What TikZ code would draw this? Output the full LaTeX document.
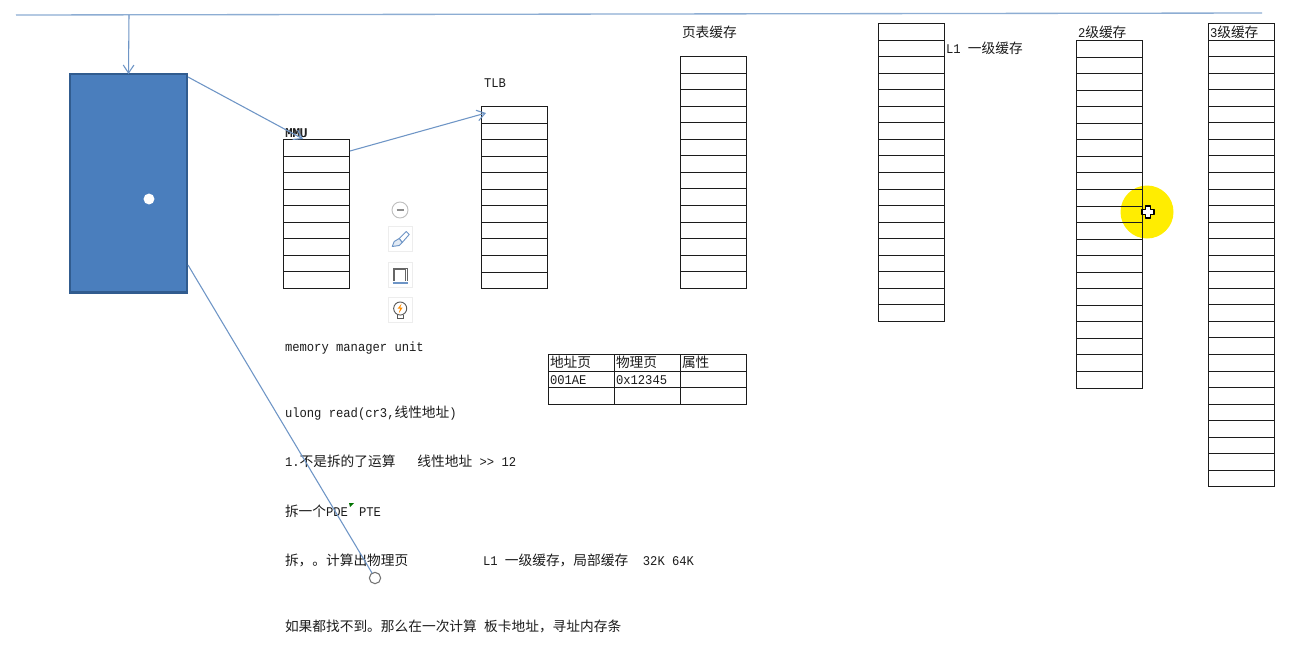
\documentclass[tikz,border=0pt]{standalone}
\usepackage{fontspec}
\setmainfont[FakeStretch=0.913]{Liberation Mono}
\setmonofont[FakeStretch=0.913]{Liberation Mono}
\newfontfamily\cjfont[Scale=1.028]{Noto Sans CJK SC}
\newcommand{\C}[1]{{\cjfont #1}}
\usetikzlibrary{calc,arrows.meta}
\definecolor{linkblue}{HTML}{6E95C6}
\definecolor{topblue}{HTML}{8DADD3}
\definecolor{boxfill}{HTML}{4A7EBD}
\definecolor{boxedge}{HTML}{315C8F}
\definecolor{inkdark}{HTML}{1C1C1C}
\tikzset{
  x=0.75pt,y=-0.75pt,
  stackbox/.style={draw=inkdark,line width=0.75pt,inner sep=0,outer sep=0,minimum width=49.5pt,anchor=north west},
  rowline/.style={draw=inkdark,line width=0.75pt},
  lbl/.style={anchor=base west,inner sep=0,outer sep=0,text=inkdark,font=\fontsize{10}{12}\selectfont},
  link/.style={draw=linkblue,line width=0.8pt},
  arrowlink/.style={link,-{Straight Barb[length=6pt,width=8pt]}},
  iconbox/.style={fill=white,draw=black!7,line width=0.4pt,minimum width=18.4pt,minimum height=18.4pt,inner sep=0,outer sep=0},
  iconshadow/.style={fill=black!12,draw=none,minimum width=18.4pt,minimum height=18.4pt,inner sep=0},
  handle/.style={circle,inner sep=0,outer sep=0,minimum size=8pt}
}
\newcommand{\stackgrid}[4]{%
  \node[stackbox,minimum height={#4*12.4125pt}] (#1) at (#2,#3) {};
  \foreach \i in {1,...,\numexpr#4-1\relax}{
    \draw[rowline] ($(#1.north west)!\i/#4!(#1.south west)$) -- ($(#1.north east)!\i/#4!(#1.south east)$);
  }
}
\newcommand{\txt}[4]{\node[lbl] (#1) at (#2,#3+4.5) {#4};}
\newcommand{\icon}[2]{%
  \node[iconshadow] at (401.2,#2+1.2) {};
  \node[iconbox] (#1) at (400.2,#2) {};
}
\begin{document}
\begin{tikzpicture}
\useasboundingbox[fill=white] (0,0) rectangle (1298,651);

% highlight under everything
\fill[yellow!95!orange] (1147,212) circle[radius=26.5];

% top line
\coordinate (topl) at (16,15);
\coordinate (topr) at (1262,13);
\draw[draw=topblue,line width=1pt] (topl) -- (topr);

% blue block
\node[draw=boxedge,fill=boxfill,line width=2pt,inner sep=0,outer sep=0,minimum width=87.75pt,minimum height=164pt,anchor=north west] (cpu) at (70,74) {};
\node[handle,fill=white,minimum size=8.2pt] (dot) at (149,199) {};

% stacks
\stackgrid{mmu}{283.5}{139.5}{9}
\stackgrid{tlb}{481.5}{106.5}{11}
\stackgrid{pte}{680.5}{56.5}{14}
\stackgrid{lone}{878.5}{23.5}{18}
\stackgrid{ltwo}{1076.5}{40.5}{21}
\stackgrid{lthree}{1208.5}{23.5}{28}

% small table
\node[stackbox,minimum width=148.5pt,minimum height=37.5pt] (tab) at (548.5,354.5) {};
\draw[rowline] ($(tab.north west)!1/3!(tab.south west)$) -- ($(tab.north east)!1/3!(tab.south east)$);
\draw[rowline] ($(tab.north west)!2/3!(tab.south west)$) -- ($(tab.north east)!2/3!(tab.south east)$);
\draw[rowline] ($(tab.north west)!1/3!(tab.north east)$) -- ($(tab.south west)!1/3!(tab.south east)$);
\draw[rowline] ($(tab.north west)!2/3!(tab.north east)$) -- ($(tab.south west)!2/3!(tab.south east)$);

% labels
\txt{tpte}{682}{33}{\C{页表缓存}}
\txt{ttlb}{484}{83}{TLB}
\txt{tmmu}{285}{133}{MMU}
\node[lbl] (tmmub) at (285.7,137.5) {MMU};
\txt{tlone}{946}{49}{L1 \C{一级缓存}}
\txt{tltwo}{1078}{33}{2\C{级缓存}}
\txt{tlthree}{1210}{33}{3\C{级缓存}}

\txt{ta}{550}{363}{\C{地址页}}
\txt{tb}{616}{363}{\C{物理页}}
\txt{tc}{682}{363}{\C{属性}}
\txt{td}{550}{380}{001AE}
\txt{te}{616}{380}{0x12345}

\txt{la}{285}{347}{memory manager unit}
\txt{lb}{285}{413}{ulong read(cr3,\C{线性地址})}
\txt{lc}{285}{462}{1.\C{不是拆的了运算}\ \ \ \C{线性地址} >{}> 12}
\txt{ld}{285}{512}{\C{拆一个}PDE\hspace{8.25pt}PTE}
\txt{le}{285}{561}{\C{拆，。计算出物理页}}
\txt{lf}{483}{561}{L1 \C{一级缓存，局部缓存}\ \ 32K 64K}
\txt{lg}{285}{627}{\C{如果都找不到。那么在一次计算} \C{板卡地址，寻址内存条}}
\fill[green!45!black] (349,503) -- (354,503) -- (350,507) -- cycle;

% connectors
\coordinate (downstart) at (129,15);
\coordinate (c1) at (188,77);
\coordinate (c1end) at (303,139);
\coordinate (c2) at (350,151);
\coordinate (c2end) at (486,113);
\coordinate (c3) at (188,265);
\node[handle,draw=black!55,fill=white,minimum size=8.5pt,line width=0.8pt] (endh) at (375,578) {};
\draw[arrowlink] (downstart) -- (cpu.north);
\draw[arrowlink] (c1) -- (c1end);
\draw[arrowlink] (c2) -- (c2end);
\draw[link] (c3) -- (endh);

% floating toolbar
\node[circle,draw=black!25,fill=white,minimum size=12pt,inner sep=0,line width=0.7pt] (tminus) at (400,210) {};
\draw[black!45,line width=1pt] ($(tminus)+(-3.5,0)$) -- ($(tminus)+(3.5,0)$);
\icon{tbrush}{238.5}
\draw[draw=linkblue,line width=0.7pt,line join=round] ($(tbrush)+(-1,0)$) -- ($(tbrush)+(6,-7)$) -- ($(tbrush)+(9,-4)$) -- ($(tbrush)+(2,4)$) -- cycle;
\draw[draw=linkblue,fill=linkblue!20,line width=0.7pt,line join=round] ($(tbrush)+(-1,0)$) -- ($(tbrush)+(-6,3)$) -- ($(tbrush)+(-8,8)$) -- ($(tbrush)+(-1,7)$) -- ($(tbrush)+(2,4)$) -- cycle;
\icon{tframe}{275}
\draw[black!60,line width=0.7pt] ($(tframe)+(-7,6)$) -- ($(tframe)+(-7,-7)$) -- ($(tframe)+(7,-7)$) -- ($(tframe)+(7,6)$);
\draw[black!60,line width=0.6pt] ($(tframe)+(-5.5,6)$) -- ($(tframe)+(-5.5,-5.5)$) -- ($(tframe)+(5.5,-5.5)$) -- ($(tframe)+(5.5,6)$);
\draw[draw=linkblue,line width=1.2pt] ($(tframe)+(-7.5,8)$) -- ($(tframe)+(7.5,8)$);
\icon{tbulb}{310}
\draw[black!65,fill=white,line width=0.7pt] ($(tbulb)+(0,-1.5)$) circle[radius=4.9pt];
\fill[orange!90!yellow] ($(tbulb)+(1.5,-6.5)$) -- ($(tbulb)+(-2.5,-1.5)$) -- ($(tbulb)+(0,-1.5)$) -- ($(tbulb)+(-1.5,3.5)$) -- ($(tbulb)+(2.5,-2.5)$) -- ($(tbulb)+(0,-2.5)$) -- cycle;
\draw[black!65,line width=0.7pt] ($(tbulb)+(-3,5)$) -- ($(tbulb)+(-3,8)$) -- ($(tbulb)+(3,8)$) -- ($(tbulb)+(3,5)$);

% cursor
\coordinate (cur) at (1148,212);
\draw[black,fill=white,line width=1.1pt,line join=round] ($(cur)+(-2.5,-6)$) -- ($(cur)+(2.5,-6)$) -- ($(cur)+(2.5,-2.5)$) -- ($(cur)+(6,-2.5)$) -- ($(cur)+(6,2.5)$) -- ($(cur)+(2.5,2.5)$) -- ($(cur)+(2.5,6)$) -- ($(cur)+(-2.5,6)$) -- ($(cur)+(-2.5,2.5)$) -- ($(cur)+(-6,2.5)$) -- ($(cur)+(-6,-2.5)$) -- ($(cur)+(-2.5,-2.5)$) -- cycle;
\end{tikzpicture}
\end{document}
